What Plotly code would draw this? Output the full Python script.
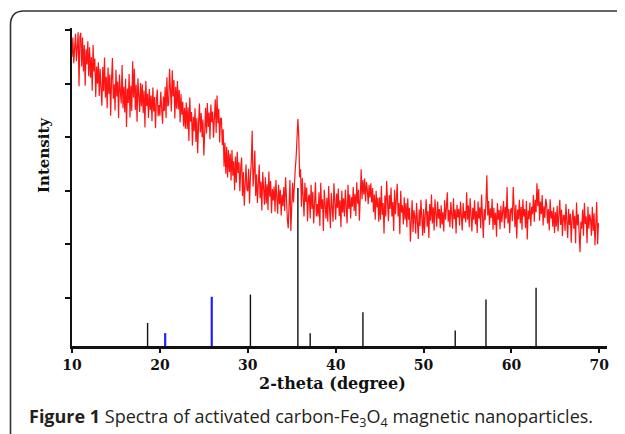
import plotly.graph_objects as go

# ---------------- data ----------------
theta_start = 10.0
theta_step = 0.1
# measured XRD intensity (arbitrary units), 10.0 .. 69.9 deg, one row per degree
intensity_rows = [
    [5.50, 5.86, 5.38, 5.77, 5.93, 5.42, 5.74, 5.96, 4.95, 5.88],  # 10
    [5.95, 5.32, 5.86, 5.23, 5.72, 4.96, 5.64, 5.36, 5.79, 5.14],  # 11
    [5.68, 5.11, 5.50, 4.87, 5.72, 5.23, 5.47, 4.75, 5.32, 5.00],  # 12
    [5.40, 4.77, 5.28, 4.99, 4.59, 5.31, 4.86, 5.49, 4.74, 5.13],  # 13
    [4.54, 5.30, 4.81, 5.17, 4.40, 5.08, 5.48, 4.72, 4.99, 4.50],  # 14
    [5.26, 4.76, 5.04, 4.36, 5.17, 4.86, 4.63, 5.35, 4.54, 4.94],  # 15
    [4.46, 5.09, 4.19, 4.91, 4.64, 5.18, 4.37, 4.96, 4.49, 5.42],  # 16
    [4.74, 5.28, 4.51, 4.98, 4.29, 5.10, 4.69, 4.47, 5.01, 4.58],  # 17
    [4.99, 4.45, 4.87, 4.18, 5.05, 4.58, 4.81, 4.36, 4.90, 4.51],  # 18
    [4.78, 4.30, 4.93, 4.48, 4.75, 4.17, 4.68, 4.89, 4.39, 4.60],  # 19
    [4.40, 4.85, 4.54, 4.25, 4.76, 4.49, 4.94, 4.36, 5.12, 4.58],  # 20
    [4.62, 5.28, 4.89, 4.48, 5.25, 4.76, 5.07, 4.35, 4.94, 4.53],  # 21
    [5.05, 4.52, 4.88, 4.28, 4.80, 4.42, 4.66, 4.20, 4.55, 4.16],  # 22
    [4.65, 4.15, 4.56, 3.93, 4.74, 4.29, 4.47, 3.84, 4.38, 4.11],  # 23
    [4.54, 3.91, 4.36, 3.70, 4.27, 4.63, 4.09, 4.45, 4.00, 4.33],  # 24
    [3.66, 4.28, 4.55, 4.07, 4.64, 4.19, 4.46, 3.96, 4.61, 4.28],  # 25
    [4.48, 3.99, 4.40, 4.71, 4.08, 4.78, 4.26, 4.53, 3.90, 4.35],  # 26
    [4.35, 3.85, 4.15, 3.45, 3.90, 3.32, 3.82, 3.25, 3.76, 3.35],  # 27
    [3.69, 3.19, 3.76, 3.28, 3.55, 3.01, 3.64, 3.15, 3.73, 3.33],  # 28
    [3.53, 2.99, 3.44, 3.62, 2.90, 3.35, 2.72, 3.26, 3.49, 3.02],  # 29
    [2.99, 3.41, 2.76, 3.26, 3.53, 4.12, 3.08, 3.35, 3.75, 2.90],  # 30
    [3.31, 2.77, 3.22, 3.49, 2.86, 3.17, 2.63, 3.35, 3.04, 2.74],  # 31
    [3.25, 2.76, 3.12, 2.64, 3.36, 2.89, 3.18, 2.58, 3.03, 2.82],  # 32
    [3.08, 2.61, 3.20, 2.84, 2.57, 3.11, 2.75, 3.02, 2.54, 2.93],  # 33
    [2.71, 3.07, 2.62, 3.25, 2.80, 2.48, 2.30, 2.98, 3.20, 2.25],  # 34
    [2.95, 3.15, 2.78, 3.20, 3.40, 3.62, 3.95, 4.34, 4.02, 3.25],  # 35
    [3.40, 2.70, 3.24, 2.97, 2.52, 3.15, 2.79, 3.06, 2.43, 2.88],  # 36
    [2.93, 2.48, 3.11, 2.66, 2.98, 2.39, 2.84, 3.16, 2.52, 2.75],  # 37
    [2.52, 2.97, 2.34, 3.15, 2.66, 2.84, 2.25, 3.02, 2.74, 2.48],  # 38
    [2.87, 2.42, 3.09, 2.60, 2.30, 2.96, 2.69, 2.42, 3.14, 2.55],  # 39
    [2.46, 2.95, 2.68, 3.04, 2.53, 2.82, 2.32, 3.00, 2.59, 2.86],  # 40
    [2.52, 3.02, 2.75, 2.39, 3.11, 2.66, 2.93, 2.48, 2.88, 2.70],  # 41
    [3.07, 2.62, 2.94, 2.53, 3.16, 2.76, 3.02, 2.44, 2.89, 3.40],  # 42
    [2.84, 3.20, 2.93, 3.23, 2.80, 3.16, 3.02, 2.75, 3.11, 2.87],  # 43
    [3.14, 2.78, 3.05, 2.60, 2.93, 2.46, 3.00, 2.69, 2.87, 2.42],  # 44
    [2.88, 2.46, 3.09, 2.55, 2.77, 2.20, 2.91, 2.52, 3.18, 2.64],  # 45
    [2.43, 2.92, 2.66, 3.06, 2.52, 2.79, 2.25, 3.02, 2.56, 2.84],  # 46
    [3.13, 2.52, 2.77, 2.19, 3.00, 2.59, 2.73, 2.37, 2.88, 2.46],  # 47
    [2.77, 2.32, 2.86, 2.46, 2.68, 2.05, 2.59, 2.82, 2.23, 2.64],  # 48
    [2.52, 2.20, 2.77, 2.38, 2.10, 2.65, 2.34, 2.83, 2.41, 2.16],  # 49
    [2.66, 2.21, 2.57, 2.84, 2.33, 2.62, 2.12, 2.75, 2.44, 2.93],  # 50
    [2.39, 2.69, 2.26, 2.84, 2.57, 2.33, 2.80, 2.48, 2.66, 2.30],  # 51
    [2.73, 2.37, 2.60, 2.24, 2.82, 2.46, 2.68, 2.97, 2.42, 2.64],  # 52
    [2.32, 2.79, 2.56, 2.29, 2.86, 2.47, 2.65, 2.20, 2.74, 2.50],  # 53
    [2.66, 2.35, 2.80, 2.53, 2.26, 2.77, 2.48, 2.62, 2.41, 2.97],  # 54
    [2.46, 2.73, 2.32, 2.86, 2.55, 2.24, 2.68, 2.46, 2.82, 2.37],  # 55
    [2.62, 2.21, 2.80, 2.48, 2.69, 2.30, 2.93, 2.57, 2.12, 2.66],  # 56
    [2.45, 2.78, 3.29, 2.54, 2.81, 2.36, 2.67, 2.49, 2.85, 2.27],  # 57
    [2.68, 2.36, 2.59, 2.14, 2.77, 2.46, 2.64, 2.28, 2.72, 2.41],  # 58
    [2.57, 2.81, 2.30, 2.70, 2.48, 3.07, 2.39, 2.66, 2.21, 2.63],  # 59
    [2.68, 2.43, 3.07, 2.56, 2.32, 2.74, 2.11, 2.65, 2.47, 2.83],  # 60
    [2.39, 2.70, 2.27, 2.84, 2.52, 2.66, 2.30, 2.81, 2.09, 2.63],  # 61
    [2.47, 2.78, 2.34, 2.70, 2.56, 2.92, 2.42, 2.83, 2.60, 3.14],  # 62
    [2.71, 3.03, 2.44, 2.80, 2.56, 2.92, 2.35, 2.71, 2.49, 2.85],  # 63
    [2.75, 2.39, 2.66, 2.26, 2.84, 2.48, 2.62, 2.33, 2.69, 2.21],  # 64
    [2.60, 2.33, 2.72, 2.24, 2.51, 2.83, 2.36, 2.65, 2.15, 2.54],  # 65
    [2.54, 2.25, 2.75, 2.39, 2.12, 2.66, 2.36, 2.57, 2.03, 2.48],  # 66
    [2.65, 2.29, 2.53, 2.02, 2.78, 2.35, 2.56, 2.20, 1.85, 2.42],  # 67
    [2.29, 2.65, 2.16, 2.77, 2.38, 2.52, 2.02, 2.70, 2.29, 2.56],  # 68
    [2.47, 2.16, 2.70, 2.25, 2.58, 1.98, 2.43, 2.79, 2.00, 2.40],  # 69
]

# reference stick pattern
stick_black_pos = [18.6, 30.3, 35.7, 37.1, 43.1, 53.6, 57.1, 62.8]
stick_black_int = [0.43, 0.96, 2.95, 0.24, 0.63, 0.29, 0.87, 1.09]
stick_blue_pos = [20.6, 25.9]
stick_blue_int = [0.24, 0.92]

x_ticks = [10, 20, 30, 40, 50, 60, 70]
y_ticks = [1, 2, 3, 4, 5, 6]

x_title = "2-theta (degree)"
y_title = "Intensity"
caption = "<b>Figure 1</b> Spectra of activated carbon-Fe<sub>3</sub>O<sub>4</sub> magnetic nanoparticles."

# ---------------- build ----------------
intensity = [v for row in intensity_rows for v in row]
two_theta = [round(theta_start + i * theta_step, 2) for i in range(len(intensity))]

Y_BASE = 0.1
Y_TOP = 6.04
X_MAX = 70.87


def sticks(pos, val):
    xs, ys = [], []
    for p, v in zip(pos, val):
        xs += [p, p, None]
        ys += [Y_BASE, Y_BASE + v, None]
    return xs, ys


fig = go.Figure()
fig.add_trace(go.Scatter(x=two_theta, y=intensity, mode="lines",
                         line=dict(color="#ff1414", width=1.2),
                         hoverinfo="skip", showlegend=False))
bx, by = sticks(stick_black_pos, stick_black_int)
fig.add_trace(go.Scatter(x=bx, y=by, mode="lines",
                         line=dict(color="#111111", width=1.4),
                         hoverinfo="skip", showlegend=False))
ux, uy = sticks(stick_blue_pos, stick_blue_int)
fig.add_trace(go.Scatter(x=ux, y=uy, mode="lines",
                         line=dict(color="#1f1fff", width=2.2),
                         hoverinfo="skip", showlegend=False))

OFF = 8  # page body margin offset
W, H = 625, 434
L, R, T, B = 64, 26, 20, 96
pw, ph = W - L - R, H - T - B


def px_x(px):
    return (px - OFF - L) / pw


def px_y(py):
    return (H - B - (py - OFF)) / ph


serif = "DejaVu Serif"
fig.update_layout(
    width=W, height=H,
    margin=dict(l=L, r=R, t=T, b=B),
    paper_bgcolor="white", plot_bgcolor="white",
    xaxis=dict(range=[10, X_MAX], tickvals=x_ticks, showgrid=False, zeroline=False,
               showline=True, linecolor="#111111", linewidth=2.5,
               ticks="outside", ticklen=4, tickwidth=2, tickcolor="#111111",
               tickfont=dict(family=serif, size=14, color="#111111", weight="bold")),
    yaxis=dict(range=[Y_BASE, Y_TOP], tickvals=y_ticks, showticklabels=False,
               showgrid=False, zeroline=False,
               showline=True, linecolor="#111111", linewidth=2,
               ticks="outside", ticklen=5, tickwidth=2, tickcolor="#111111"),
    showlegend=False,
)

fig.add_annotation(text=x_title, xref="paper", yref="paper",
                   x=px_x(332), y=px_y(383), showarrow=False,
                   xanchor="center", yanchor="middle",
                   font=dict(family=serif, size=16, color="#111111", weight="bold"))
fig.add_annotation(text=y_title, xref="paper", yref="paper",
                   x=px_x(44), y=px_y(155), showarrow=False, textangle=-90,
                   xanchor="center", yanchor="middle",
                   font=dict(family=serif, size=15, color="#111111", weight="bold"))
fig.add_annotation(text=caption, xref="paper", yref="paper",
                   x=px_x(27), y=px_y(417), showarrow=False,
                   xanchor="left", yanchor="middle",
                   font=dict(family="Open Sans", size=18, color="#231f20"))

# rounded frame (top-left corner), open to the right and bottom
x0, y0 = px_x(10.5), px_y(11)
rx, ry = px_x(24) - px_x(10.5), px_y(11) - px_y(25)
path = (f"M {x0},{px_y(450)} L {x0},{y0 - ry} "
        f"Q {x0},{y0} {x0 + rx},{y0} L {px_x(650)},{y0}")
fig.add_shape(type="path", path=path, xref="paper", yref="paper",
              line=dict(color="#333333", width=1.6))

fig.write_html("out.html")
